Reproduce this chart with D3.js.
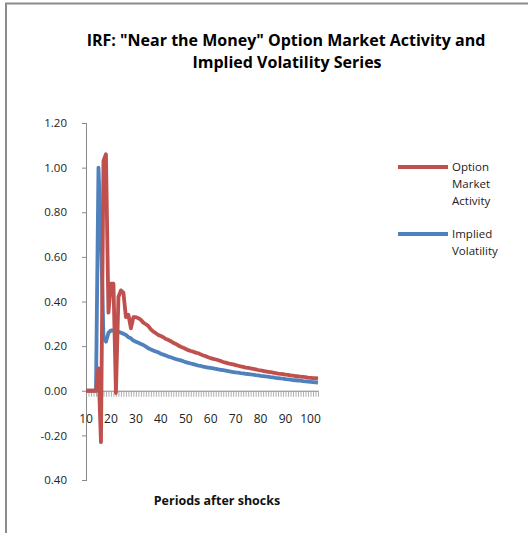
<!DOCTYPE html>
<html>
<head>
<meta charset="utf-8">
<script src="https://cdn.jsdelivr.net/npm/d3@7"></script>
<style>
  html, body { margin: 0; padding: 0; background: #fff; }
  svg { display: block; }
  text { font-family: "Open Sans", "Noto Sans", sans-serif; }
</style>
</head>
<body>
<svg id="chart" width="528" height="533"></svg>
<script>
// Impulse responses, periods 10..103
const periods = d3.range(10, 104);

const optionActivity = [
  0, 0, 0, 0, 0, 0.10, -0.23, 1.03, 1.06, 0.35,
  0.48, 0.48, -0.01, 0.42, 0.45, 0.44, 0.33, 0.34, 0.28, 0.33,
  0.330, 0.325, 0.318, 0.305, 0.298, 0.290, 0.275, 0.265, 0.258, 0.250,
  0.245, 0.240, 0.232, 0.228, 0.222, 0.215, 0.210, 0.203, 0.197, 0.193,
  0.187, 0.182, 0.178, 0.175, 0.171, 0.168, 0.163, 0.158, 0.155, 0.150,
  0.146, 0.143, 0.140, 0.137, 0.133, 0.129, 0.126, 0.123, 0.120, 0.118,
  0.115, 0.112, 0.109, 0.107, 0.104, 0.102, 0.100, 0.098, 0.096, 0.093,
  0.091, 0.089, 0.087, 0.085, 0.083, 0.081, 0.079, 0.077, 0.076, 0.074,
  0.072, 0.071, 0.069, 0.068, 0.066, 0.065, 0.063, 0.062, 0.061, 0.059,
  0.058, 0.057, 0.056, 0.055
];

const impliedVol = [
  0, 0, 0, 0, 0, 1.00, 0.70, 0.24, 0.22, 0.26,
  0.27, 0.27, 0.265, 0.265, 0.260, 0.255, 0.250, 0.240, 0.235, 0.225,
  0.220, 0.215, 0.210, 0.205, 0.198, 0.190, 0.185, 0.180, 0.176, 0.172,
  0.166, 0.162, 0.158, 0.153, 0.150, 0.146, 0.142, 0.139, 0.136, 0.132,
  0.128, 0.125, 0.122, 0.119, 0.116, 0.113, 0.111, 0.108, 0.106, 0.104,
  0.102, 0.100, 0.098, 0.096, 0.094, 0.092, 0.090, 0.088, 0.086, 0.084,
  0.082, 0.081, 0.079, 0.078, 0.076, 0.075, 0.073, 0.072, 0.070, 0.069,
  0.067, 0.066, 0.064, 0.063, 0.061, 0.060, 0.058, 0.057, 0.055, 0.054,
  0.052, 0.051, 0.050, 0.048, 0.047, 0.046, 0.045, 0.043, 0.042, 0.041,
  0.040, 0.039, 0.038, 0.037
];

const yTicks = [1.2, 1.0, 0.8, 0.6, 0.4, 0.2, 0.0, -0.2, -0.4];
const yTickLabels = ["1.20", "1.00", "0.80", "0.60", "0.40", "0.20", "0.00", "-0.20", "0.40"];
const xTickLabels = [10, 20, 30, 40, 50, 60, 70, 80, 90, 100];

const seriesNames = ["Option Market Activity", "Implied Volatility"];
const seriesColors = ["#C0504D", "#4F81BD"];

const svg = d3.select("#chart");

// chart frame
svg.append("path")
  .attr("d", "M6,533 V3.5 H528")
  .attr("fill", "none")
  .attr("stroke", "#8c8c8c")
  .attr("stroke-width", 2);

// title
const title = svg.append("text")
  .attr("text-anchor", "middle")
  .attr("font-weight", "bold")
  .attr("font-size", 16)
  .attr("fill", "#000");
title.append("tspan").attr("x", 286).attr("y", 46).text("IRF: \"Near the Money\" Option Market Activity and");
title.append("tspan").attr("x", 287).attr("y", 68).text("Implied Volatility Series");

const x = d3.scalePoint().domain(periods).range([86, 318]);
const y = d3.scaleLinear().domain([-0.4, 1.2]).range([480, 123]);

// y axis
const yAxis = svg.append("g")
  .attr("transform", "translate(86,0)")
  .call(d3.axisLeft(y)
    .tickValues(yTicks)
    .tickSize(4)
    .tickPadding(15)
    .tickFormat((d, i) => yTickLabels[i]));
yAxis.select(".domain").attr("stroke", "#8a8a8a").attr("d", `M0.5,${y(1.2)}V${y(-0.4) + 1}`);
yAxis.selectAll(".tick line").attr("stroke", "#8a8a8a");
yAxis.selectAll(".tick text").attr("font-size", 11.5).attr("fill", "#222").attr("font-family", "\"Open Sans\", sans-serif");

// x axis at zero, one tick per period
const xAxis = svg.append("g")
  .attr("transform", `translate(0,${y(0)})`)
  .call(d3.axisBottom(x)
    .tickValues(periods)
    .tickSize(6)
    .tickSizeOuter(0)
    .tickFormat(""));
xAxis.select(".domain").attr("stroke", "#8a8a8a");
xAxis.selectAll(".tick line").attr("stroke", "#9a9a9a").attr("stroke-width", 0.8);

svg.append("g")
  .selectAll("text")
  .data(xTickLabels)
  .join("text")
  .attr("x", d => x(d))
  .attr("y", y(0) + 32)
  .attr("text-anchor", "middle")
  .attr("font-size", 12)
  .attr("fill", "#222")
  .text(d => d);

// x axis title
svg.append("text")
  .attr("x", 217)
  .attr("y", 505)
  .attr("text-anchor", "middle")
  .attr("font-size", 12.5)
  .attr("font-weight", "bold")
  .attr("fill", "#111")
  .text("Periods after shocks");

// series lines
const line = d3.line()
  .x((d, i) => x(periods[i]))
  .y(d => y(d));

const seriesData = [impliedVol, optionActivity];
const seriesColorOrder = [seriesColors[1], seriesColors[0]];
svg.append("g")
  .selectAll("path")
  .data(seriesData)
  .join("path")
  .attr("d", d => line(d))
  .attr("fill", "none")
  .attr("stroke", (d, i) => seriesColorOrder[i])
  .attr("stroke-width", 3.8)
  .attr("stroke-linejoin", "round")
  .attr("stroke-linecap", "butt");

// legend
const legendRows = [
  { lines: ["Option", "Market", "Activity"], y: 167 },
  { lines: ["Implied", "Volatility"], y: 234 }
];
const legend = svg.append("g");
legendRows.forEach((row, i) => {
  legend.append("line")
    .attr("x1", 398).attr("x2", 448)
    .attr("y1", row.y).attr("y2", row.y)
    .attr("stroke", seriesColors[i])
    .attr("stroke-width", 3.8);
  const t = legend.append("text")
    .attr("font-size", 11.5)
    .attr("fill", "#222");
  row.lines.forEach((s, j) => {
    t.append("tspan")
      .attr("x", 452)
      .attr("y", row.y + 4 + j * 17)
      .text(s);
  });
});
</script>
</body>
</html>
